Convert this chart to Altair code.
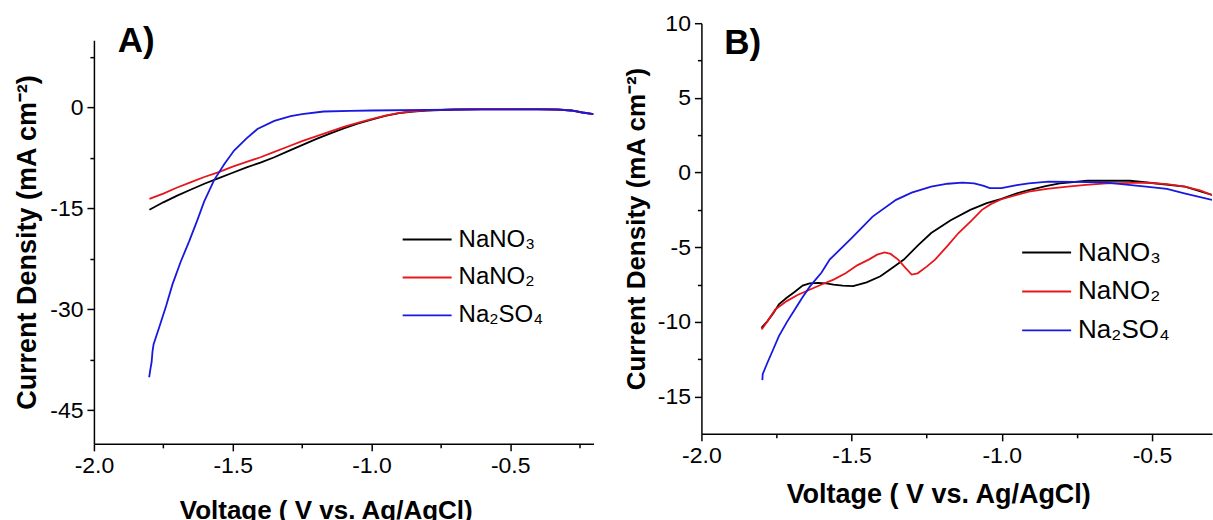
import altair as alt
import pandas as pd

FONT = "Liberation Sans"
series = ["NaNO₃", "NaNO₂", "Na₂SO₄"]
series_colors = ["#000000", "#e8161b", "#1818e0"]

# ---------------- Panel A data ----------------
a_nano3_v = [-1.80, -1.75, -1.70, -1.65, -1.60, -1.55, -1.50, -1.45, -1.40, -1.35,
             -1.30, -1.25, -1.20, -1.15, -1.10, -1.05, -1.00, -0.95, -0.90, -0.85,
             -0.80, -0.70, -0.60, -0.50, -0.40, -0.33, -0.28, -0.24, -0.20]
a_nano3_j = [-15.2, -14.1, -13.1, -12.2, -11.3, -10.5, -9.7, -8.9, -8.2, -7.4,
             -6.5, -5.6, -4.7, -3.9, -3.1, -2.4, -1.8, -1.25, -0.85, -0.6,
             -0.45, -0.3, -0.25, -0.25, -0.25, -0.3, -0.45, -0.75, -1.0]
a_nano2_v = a_nano3_v
a_nano2_j = [-13.6, -12.8, -11.9, -11.1, -10.3, -9.6, -8.8, -8.1, -7.4, -6.6,
             -5.8, -5.0, -4.3, -3.6, -2.9, -2.3, -1.75, -1.2, -0.82, -0.58,
             -0.42, -0.28, -0.23, -0.23, -0.24, -0.3, -0.45, -0.75, -1.0]
a_na2so4_v = [-1.801, -1.797, -1.792, -1.789, -1.785, -1.765, -1.740, -1.717, -1.687, -1.657,
              -1.627, -1.603, -1.567, -1.530, -1.495, -1.450, -1.411, -1.350, -1.291, -1.250,
              -1.172, -1.076, -1.00, -0.80, -0.60, -0.40, -0.33, -0.28, -0.24, -0.20]
a_na2so4_j = [-40.1, -39.0, -37.8, -36.3, -35.2, -32.7, -29.5, -26.3, -22.9, -19.9,
              -16.7, -14.0, -10.8, -8.4, -6.4, -4.6, -3.2, -2.0, -1.3, -1.0,
              -0.6, -0.5, -0.45, -0.35, -0.3, -0.3, -0.33, -0.45, -0.75, -1.0]

# ---------------- Panel B data ----------------
b_nano3_v = [-1.800, -1.795, -1.780, -1.760, -1.742, -1.716, -1.690, -1.663, -1.640, -1.612,
             -1.585, -1.560, -1.530, -1.495, -1.450, -1.404, -1.365, -1.326, -1.280, -1.235,
             -1.170, -1.105, -1.050, -1.001, -0.950, -0.910, -0.850, -0.807, -0.715, -0.573,
             -0.500, -0.390, -0.300]
b_nano3_j = [-10.4, -10.28, -9.95, -9.4, -8.83, -8.39, -8.0, -7.57, -7.42, -7.39,
             -7.42, -7.5, -7.58, -7.61, -7.35, -6.95, -6.4, -5.83, -4.9, -4.05,
             -3.2, -2.5, -2.05, -1.77, -1.4, -1.17, -0.9, -0.72, -0.55, -0.55,
             -0.7, -0.95, -1.5]
b_nano2_v = [-1.800, -1.795, -1.775, -1.754, -1.716, -1.680, -1.638, -1.600, -1.560, -1.520,
             -1.480, -1.443, -1.415, -1.390, -1.370, -1.345, -1.320, -1.300, -1.280, -1.250,
             -1.222, -1.180, -1.144, -1.100, -1.066, -1.035, -1.001, -0.950, -0.910, -0.850,
             -0.781, -0.720, -0.651, -0.520, -0.450, -0.390, -0.340, -0.300]
b_nano2_j = [-10.5, -10.39, -9.8, -9.17, -8.61, -8.2, -7.83, -7.5, -7.17, -6.75,
             -6.2, -5.83, -5.5, -5.35, -5.45, -5.83, -6.4, -6.83, -6.75, -6.3,
             -5.83, -4.9, -4.05, -3.2, -2.5, -2.1, -1.79, -1.5, -1.28, -1.1,
             -0.95, -0.82, -0.72, -0.68, -0.78, -0.95, -1.2, -1.5]
b_na2so4_v = [-1.797, -1.796, -1.780, -1.760, -1.742, -1.715, -1.689, -1.665, -1.638, -1.600,
              -1.573, -1.500, -1.430, -1.352, -1.300, -1.235, -1.180, -1.131, -1.092, -1.060,
              -1.040, -1.001, -0.950, -0.910, -0.845, -0.750, -0.651, -0.520, -0.450, -0.392,
              -0.300]
b_na2so4_j = [-13.9, -13.5, -12.72, -11.8, -10.95, -10.0, -9.17, -8.4, -7.61, -6.7,
              -5.83, -4.4, -2.95, -1.83, -1.35, -0.95, -0.75, -0.68, -0.72, -0.9,
              -1.05, -1.05, -0.85, -0.72, -0.61, -0.63, -0.68, -0.95, -1.1, -1.39,
              -1.83]

# axis ticks
a_x_ticks = [-2.0, -1.75, -1.5, -1.25, -1.0, -0.75, -0.5, -0.25]
a_y_ticks = [-45, -37.5, -30, -22.5, -15, -7.5, 0, 7.5]
b_x_ticks = [-2.0, -1.75, -1.5, -1.25, -1.0, -0.75, -0.5]
b_y_ticks = [-15, -12.5, -10, -7.5, -5, -2.5, 0, 2.5, 5, 7.5, 10]

panel_labels = ["A)", "B)"]


def series_frame(groups):
    rows = []
    for name, vs, js in groups:
        for i, (v, j) in enumerate(zip(vs, js)):
            rows.append({"V": v, "J": j, "S": name, "i": i})
    return pd.DataFrame(rows)


df_a = series_frame([(series[0], a_nano3_v, a_nano3_j),
                     (series[1], a_nano2_v, a_nano2_j),
                     (series[2], a_na2so4_v, a_na2so4_j)])
df_b = series_frame([(series[0], b_nano3_v, b_nano3_j),
                     (series[1], b_nano2_v, b_nano2_j),
                     (series[2], b_na2so4_v, b_na2so4_j)])

AX = dict(labelFont=FONT, titleFont=FONT, labelFontSize=23,
          titleFontWeight="bold", labelColor="black", titleColor="black",
          domainColor="black", tickColor="black", domainWidth=1.5, tickWidth=1.5,
          grid=False, labelPadding=4, labelFlush=False, labelOverlap=False)


def panel(df, xdom, ydom, xvals, yvals, ystep, w, h, xtp, ytp, xtfs, ytfs, xtx,
          lx, ly, lfs, lrow, label, lab_v, lab_j):
    xtest = "abs(datum.value*2 - round(datum.value*2)) < 0.001"
    ytest = f"abs(datum.value/{ystep} - round(datum.value/{ystep})) < 0.001"
    xenc = alt.X("V:Q", scale=alt.Scale(domain=xdom, nice=False, zero=False),
                 axis=alt.Axis(title="Voltage ( V vs. Ag/AgCl)", values=xvals,
                               labelExpr=f"{xtest} ? replace(format(datum.value, '.1f'), '\u2212', '-') : ''",
                               tickSize={"condition": {"test": xtest, "value": 7}, "value": 4},
                               titlePadding=xtp, titleFontSize=xtfs, titleX=xtx, **AX))
    yenc = alt.Y("J:Q", scale=alt.Scale(domain=ydom, nice=False, zero=False),
                 axis=alt.Axis(title="Current Density (mA cm\u207b\u00b2)", values=yvals,
                               labelExpr=f"{ytest} ? replace(format(datum.value, '.0f'), '\u2212', '-') : ''",
                               tickSize={"condition": {"test": ytest, "value": 7}, "value": 4},
                               titlePadding=ytp, titleFontSize=ytfs, **AX))
    lines = alt.Chart(df).mark_line(strokeWidth=1.8, clip=True).encode(
        x=xenc, y=yenc,
        color=alt.Color("S:N", scale=alt.Scale(domain=series, range=series_colors),
                        legend=alt.Legend(orient="none", legendX=lx, legendY=ly, title=None,
                                          symbolType="stroke", symbolSize=2401,
                                          symbolStrokeWidth=1.8, labelFont=FONT,
                                          labelFontSize=lfs, labelColor="black",
                                          labelOffset=6, rowPadding=lrow, padding=0)),
        order="i:Q")
    txt = alt.Chart(pd.DataFrame({"V": [lab_v], "J": [lab_j], "t": [label]})).mark_text(
        align="left", baseline="alphabetic", fontSize=35, fontWeight="bold",
        font=FONT, color="black").encode(x=xenc, y=yenc, text="t:N")
    return alt.layer(lines, txt).properties(width=w, height=h)


chart_a = panel(df_a, [-2.0, -0.2], [-50, 10], a_x_ticks, a_y_ticks, 15, 500, 404,
                20, 8, 26, 27, 232, 308, 174, 24, -4.5, panel_labels[0], -1.914, 8.2)
chart_b = panel(df_b, [-2.0, -0.3], [-17.5, 10], b_x_ticks, b_y_ticks, 5, 511, 411,
                14, 8, 27, 26, 237, 320, 204, 26, 0, panel_labels[1], -1.924, 7.96)

# empty strip that lowers panel A relative to panel B
spacer = alt.Chart(pd.DataFrame({"s": [0]})).mark_point(opacity=0).encode(
    x=alt.value(0), y=alt.value(0)).properties(width=1, height=1)

left = alt.vconcat(spacer, chart_a, spacing=-4).resolve_scale(color="independent")

chart = alt.hconcat(left, chart_b, spacing=28).resolve_scale(
    color="independent").configure_view(stroke="transparent").properties(
    padding={"left": 13, "top": 11, "right": 0, "bottom": 0})

chart.save("out.html", embed_options={"renderer": "svg", "actions": False})
